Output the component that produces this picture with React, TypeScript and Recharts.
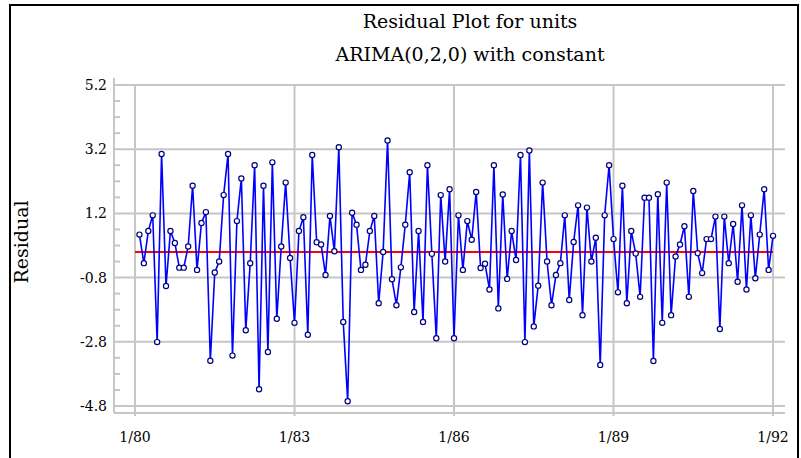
import { CartesianGrid, Line, LineChart, ReferenceLine, XAxis, YAxis } from "recharts"

// Monthly residuals, first value is 2/80 (month 1 counted from 1/80)
const FIRST_MONTH = 1
const residuals = [
  0.54, -0.35, 0.65, 1.14, -2.81, 3.05, -1.06, 0.65, 0.28, -0.49,
  -0.49, 0.17, 2.06, -0.56, 0.9, 1.24, -3.39, -0.64, -0.3, 1.77,
  3.05, -3.23, 0.96, 2.29, -2.44, -0.35, 2.7, -4.28, 2.06, -3.12,
  2.79, -2.08, 0.17, 2.16, -0.19, -2.21, 0.65, 1.08, -2.58, 3.02,
  0.3, 0.23, -0.72, 1.12, 0.02, 3.26, -2.18, -4.65, 1.22, 0.85,
  -0.56, -0.4, 0.65, 1.12, -1.6, 0.0, 3.47, -0.85, -1.66, -0.48,
  0.85, 2.48, -1.87, 0.65, -2.18, 2.7, -0.06, -2.69, 1.77, -0.3,
  1.95, -2.69, 1.14, -0.56, 0.96, 0.38, 1.87, -0.5, -0.37, -1.17,
  2.7, -1.76, 1.79, -0.84, 0.65, -0.25, 3.02, -2.81, 3.16, -2.32,
  -1.05, 2.16, -0.3, -1.66, -0.72, -0.35, 1.14, -1.5, 0.31, 1.45,
  -1.97, 1.38, -0.3, 0.44, -3.52, 1.14, 2.7, 0.4, -1.26, 2.06,
  -1.6, 0.65, -0.05, -1.4, 1.69, 1.69, -3.4, 1.8, -2.21, 2.16,
  -1.97, -0.14, 0.23, 0.8, -1.4, 1.9, -0.04, -0.66, 0.4, 0.4,
  1.1, -2.4, 1.1, -0.35, 0.87, -0.93, 1.45, -1.17, 1.14, -0.82,
  0.54, 1.95, -0.56, 0.5,
]

// x ticks: months since 1/80
const monthTicks = [0, 36, 72, 108, 144]
const monthLabels = ["1/80", "1/83", "1/86", "1/89", "1/92"]
const yTicks = [-4.8, -2.8, -0.8, 1.2, 3.2, 5.2]
const yMinorTicks = [
  -4.3, -3.8, -3.3, -2.3, -1.8, -1.3, -0.3, 0.2, 0.7, 1.7, 2.2, 2.7, 3.7, 4.2, 4.7,
]
const yAllTicks = [...yTicks, ...yMinorTicks].sort((a, b) => a - b)

const data = residuals.map((r, i) => ({ t: FIRST_MONTH + i, r }))

const X_DOMAIN: [number, number] = [-4.74, 146.7]
const Y_DOMAIN: [number, number] = [-5.018, 5.418]
const GRID = "#c6c6c6"
const FONT = "'DejaVu Serif', serif"

// labels for the major values, short inward marks for the minor ones
function YTick(props: any) {
  const { x, y, payload } = props
  const v = payload.value
  if (yTicks.includes(v)) {
    return (
      <text x={x} y={y} dy="0.35em" textAnchor="end" fill="#000" fontFamily={FONT} fontSize={14}>
        {v.toFixed(1)}
      </text>
    )
  }
  return <line x1={x + 7} x2={x + 13} y1={y} y2={y} stroke={GRID} strokeWidth={2} />
}

export default function App() {
  return (
    <div style={{ position: "absolute", left: 0, top: 0, width: 801, height: 458, background: "#fff", overflow: "hidden" }}>
      <div
        style={{
          position: "absolute",
          left: 9,
          top: 4,
          width: 786,
          height: 452,
          borderTop: "2px solid #000",
          borderLeft: "2px solid #000",
          borderRight: "2px solid #000",
        }}
      />
      <div style={{ position: "absolute", left: 270, width: 400, top: 10, textAlign: "center", fontFamily: FONT, fontSize: 19, lineHeight: "22px" }}>
        Residual Plot for units
      </div>
      <div style={{ position: "absolute", left: 270, width: 400, top: 43, textAlign: "center", fontFamily: FONT, fontSize: 19, lineHeight: "22px" }}>
        ARIMA(0,2,0) with constant
      </div>
      <div
        style={{
          position: "absolute",
          left: 21,
          top: 242,
          transform: "translate(-50%, -50%) rotate(-90deg)",
          fontFamily: FONT,
          fontSize: 19,
          lineHeight: "20px",
          whiteSpace: "nowrap",
        }}
      >
        Residual
      </div>
      <div style={{ position: "absolute", left: 0, top: 0 }}>
        <LineChart width={801} height={458} data={data} margin={{ top: 78, right: 16, bottom: 15, left: 54 }}>
          <CartesianGrid vertical={false} stroke={GRID} strokeWidth={2} horizontalValues={yTicks} />
          <XAxis
            type="number"
            dataKey="t"
            domain={X_DOMAIN}
            ticks={monthTicks}
            tickFormatter={(v) => monthLabels[monthTicks.indexOf(v)]}
            height={30}
            allowDataOverflow
            stroke={GRID}
            strokeWidth={2}
            tickSize={3}
            tickMargin={16}
            tick={{ fill: "#000", fontFamily: FONT, fontSize: 14 }}
          />
          <YAxis
            type="number"
            domain={Y_DOMAIN}
            ticks={yAllTicks}
            interval={0}
            allowDataOverflow
            width={60}
            stroke={GRID}
            strokeWidth={2}
            tickLine={false}
            tickSize={0}
            tickMargin={7}
            tick={<YTick />}
          />
          {monthTicks.map((m) => (
            <ReferenceLine
              key={m}
              segment={[
                { x: m, y: 5.2 },
                { x: m, y: Y_DOMAIN[0] },
              ]}
              stroke={GRID}
              strokeWidth={2}
            />
          ))}
          <ReferenceLine
            segment={[
              { x: 0, y: 0 },
              { x: 144, y: 0 },
            ]}
            stroke="#ff0000"
            strokeWidth={2}
          />
          <Line
            type="linear"
            dataKey="r"
            stroke="#0000ff"
            strokeWidth={1.6}
            dot={{ r: 2.6, stroke: "#000080", strokeWidth: 1.2, fill: "#fff" }}
            isAnimationActive={false}
          />
        </LineChart>
      </div>
    </div>
  )
}
